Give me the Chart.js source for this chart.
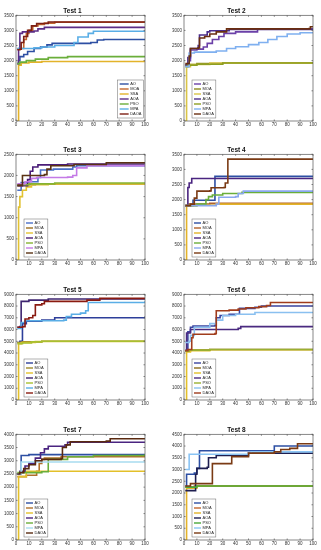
<!DOCTYPE html>
<html>
<head>
<meta charset="utf-8">
<script src="https://cdn.jsdelivr.net/npm/chart.js@4.4.0/dist/chart.umd.min.js"></script>
<style>
  html, body { margin: 0; padding: 0; background: #fff; overflow: hidden; }
  body { width: 321px; height: 550px; position: relative; }
  canvas { position: absolute; }
</style>
</head>
<body>
<script>
// convergence curves, [iteration, best fitness] at each change
const algorithms = ['AO', 'MOA', 'SSA', 'AOA', 'PSO', 'MPA', 'DAOA'];
const testNames = ['Test 1', 'Test 2', 'Test 3', 'Test 4', 'Test 5', 'Test 6', 'Test 7', 'Test 8'];
const yMax = [3500, 3500, 2500, 3500, 9000, 9000, 4000, 4500];
const yStep = [500, 500, 500, 500, 1000, 1000, 500, 500];

const test1 = [
    [[1,1900],[2,2000],[3,2130],[6,2200],[9,2300],[14,2400],[19,2450],[24,2520],[28,2570],[58,2600],[63,2680],[68,2700],[100,2700]],
    [[1,2380],[4,2400],[6,2700],[8,2900],[10,3000],[13,3150],[17,3200],[22,3240],[30,3270],[100,3270]],
    [[1,0],[2,1850],[4,1920],[10,1950],[20,1970],[100,1970]],
    [[1,1900],[2,2400],[3,2900],[5,2950],[14,2980],[17,3050],[22,3100],[100,3100]],
    [[1,1900],[3,1950],[8,2000],[15,2050],[25,2100],[40,2130],[100,2140]],
    [[1,2400],[14,2420],[20,2450],[30,2500],[45,2600],[48,2780],[56,2900],[60,2970],[100,2980]],
    [[1,2360],[3,2380],[4,2600],[6,2800],[9,3000],[12,3150],[16,3230],[25,3280],[100,3290]]
];
const test2 = [
    [[1,1850],[4,2000],[5,2350],[10,2380],[15,2450],[18,2570],[22,2700],[27,2800],[31,2900],[40,2950],[57,3050],[100,3060]],
    [[1,1850],[3,1870],[10,1900],[30,1930],[100,1950]],
    [[1,0],[2,1800],[5,1870],[20,1920],[100,1940]],
    [[1,1850],[3,2100],[5,2400],[11,2500],[12,2850],[18,2950],[20,2990],[35,3030],[100,3040]],
    [[1,1800],[3,1850],[10,1880],[30,1920],[100,1950]],
    [[1,1800],[4,2250],[8,2280],[25,2320],[33,2400],[40,2460],[50,2530],[58,2600],[65,2700],[72,2800],[80,2880],[90,2920],[100,2930]],
    [[1,1900],[4,2150],[5,2400],[11,2420],[12,2750],[16,2800],[20,2880],[25,2950],[33,3050],[97,3060],[98,3120],[100,3120]]
];
const test3 = [
    [[1,1650],[4,1830],[10,1850],[17,1950],[19,2130],[29,2150],[44,2200],[47,2230],[100,2240]],
    [[1,1750],[5,1780],[15,1800],[100,1810]],
    [[1,0],[2,1250],[3,1500],[5,1650],[8,1730],[12,1780],[25,1800],[100,1800]],
    [[1,1760],[9,1900],[11,2100],[13,2200],[17,2250],[40,2270],[100,2290]],
    [[1,1780],[10,1800],[30,1820],[100,1830]],
    [[1,1800],[7,1850],[12,1930],[16,1950],[40,1960],[44,2000],[47,2180],[55,2230],[100,2260]],
    [[1,1770],[5,2000],[22,2020],[24,2150],[27,2230],[45,2260],[70,2300],[100,2320]]
];
const test4 = [
    [[1,1800],[7,1980],[24,2770],[100,2770]],
    [[1,1800],[4,1850],[20,1880],[100,1900]],
    [[1,0],[2,1800],[10,1820],[25,1850],[100,1870]],
    [[1,1800],[3,2400],[4,2550],[6,2700],[100,2700]],
    [[1,1800],[10,1850],[17,2000],[19,2100],[22,2150],[30,2200],[45,2240],[100,2250]],
    [[1,1800],[25,1850],[27,2080],[40,2100],[42,2200],[46,2280],[100,2300]],
    [[1,1800],[5,1850],[8,2050],[10,2280],[20,2290],[21,2390],[31,2400],[32,2550],[34,3340],[100,3340]]
];
const test5 = [
    [[1,4900],[3,5000],[5,6500],[8,6700],[20,6800],[30,7000],[100,7100]],
    [[1,4900],[5,4950],[20,5000],[100,5020]],
    [[1,0],[2,4800],[4,4900],[15,4980],[100,5000]],
    [[1,6200],[3,6250],[4,8400],[10,8500],[25,8600],[100,8650]],
    [[1,4800],[5,4850],[12,4950],[20,5000],[100,5050]],
    [[1,6100],[4,6600],[7,6750],[37,6800],[39,7100],[43,7300],[50,7400],[54,7600],[56,8300],[100,8400]],
    [[1,6200],[5,6250],[7,6900],[10,7000],[13,7200],[15,8100],[20,8200],[22,8400],[55,8500],[65,8650],[100,8700]]
];
const test6 = [
    [[1,4200],[3,5800],[5,6200],[7,6300],[24,6350],[25,7000],[28,7200],[35,7300],[43,7800],[55,7900],[60,8000],[100,8000]],
    [[1,4200],[5,4250],[20,4300],[100,4320]],
    [[1,0],[2,4100],[5,4200],[20,4280],[100,4300]],
    [[1,4200],[2,5700],[5,6000],[42,6100],[44,6250],[100,6300]],
    [[1,4150],[4,4250],[20,4300],[100,4330]],
    [[1,4900],[4,5000],[5,5500],[8,6200],[20,6500],[25,6800],[30,7200],[40,7300],[55,7450],[100,7450]],
    [[1,4200],[3,4300],[6,5300],[7,5600],[24,5650],[25,7600],[35,7650],[42,7750],[48,7850],[58,7950],[64,8050],[67,8300],[100,8350]]
];
const test7 = [
    [[1,2500],[4,3200],[10,3230],[100,3250]],
    [[1,2400],[8,2450],[16,2600],[18,2900],[20,3050],[22,3100],[35,3150],[100,3200]],
    [[1,0],[2,2400],[8,2600],[100,2600]],
    [[1,2500],[3,2600],[7,2800],[10,2900],[15,3100],[19,3300],[22,3450],[25,3550],[38,3600],[40,3700],[100,3700]],
    [[1,2550],[20,2580],[25,3050],[40,3150],[60,3200],[100,3250]],
    [[1,2500],[4,2950],[100,2980]],
    [[1,2500],[3,2550],[6,2700],[10,2850],[15,3000],[20,3050],[35,3080],[36,3500],[39,3600],[42,3720],[70,3740],[73,3830],[100,3830]]
];
const test8 = [
    [[1,2300],[2,2800],[8,2850],[10,3050],[12,3800],[69,3800],[70,4000],[100,4050]],
    [[1,2250],[8,2300],[100,2330]],
    [[1,0],[2,2200],[10,2300],[100,2330]],
    [[1,2100],[8,2100],[9,2800],[10,3050],[18,3100],[19,3500],[25,3600],[50,3700],[100,3700]],
    [[1,2250],[10,2300],[100,2330]],
    [[1,3000],[4,3650],[50,3700],[52,3750],[100,3750]],
    [[1,2300],[5,2400],[22,3250],[37,3550],[50,3700],[70,3750],[75,3850],[82,3900],[88,4100],[100,4120]]
];
const tests = [test1, test2, test3, test4, test5, test6, test7, test8];

// line colours, in algorithm order
const basePalette = ['#2d4fa3', '#c2662d', '#e3b32a', '#5b2c86', '#6aae3a', '#5aaee6', '#7d1f14'];
const palettes = [
    basePalette,
    ['#6b40a8', '#8c8a1e', '#d9c447', '#4b2d8a', '#8e9f22', '#7fb0f0', '#6a2e10'],
    ['#4a6fc8', '#9c6e1e', '#e2c232', '#4a1c78', '#86b232', '#c47ae6', '#5a3214'],
    ['#2d4fa3', '#b0602a', '#e3b32a', '#4a2480', '#6aae3a', '#8aa8ee', '#7a3a14'],
    ['#2d3f9a', '#a08a2a', '#e3c02a', '#3e2470', '#a8c030', '#5aaee6', '#8a1a10'],
    ['#3a44a0', '#8a6a1a', '#e3c02a', '#4a2a80', '#9ab030', '#8ac0f0', '#a03c1c'],
    ['#2d4fa3', '#b0702a', '#e3c02a', '#4a2480', '#6aae3a', '#a8dcf0', '#5a2a10'],
    ['#2d4fa3', '#c2662d', '#e3b32a', '#1e1e50', '#4aa83a', '#8ac4f4', '#7a3a14']
];
const legendCorner = ['br', 'bl', 'bl', 'bl', 'bl', 'bl', 'bl', 'bl'];

const rowTop = [0, 139, 279, 419];
const cols = [
    { left: 0, width: 160, yw: 16, padR: 15 },
    { left: 160, width: 161, yw: 24, padR: 8 }
];

Chart.defaults.font.family = "'Liberation Sans', Arial, sans-serif";
Chart.defaults.color = '#333';

const tickFont = { size: 4.5 };

// matlab style box, inward ticks and legend inside the axes
const matlabBox = {
    id: 'matlabBox',
    afterDatasetsDraw(chart, args, opts) {
        const ctx = chart.ctx;
        const a = chart.chartArea;
        const xs = chart.scales.x, ys = chart.scales.y;
        ctx.save();
        ctx.strokeStyle = '#555';
        ctx.lineWidth = 0.7;
        ctx.strokeRect(a.left, a.top, a.right - a.left, a.bottom - a.top);
        ctx.beginPath();
        xs.ticks.forEach(t => {
            const px = xs.getPixelForValue(t.value);
            ctx.moveTo(px, a.bottom); ctx.lineTo(px, a.bottom - 1.5);
            ctx.moveTo(px, a.top); ctx.lineTo(px, a.top + 1.5);
        });
        ys.ticks.forEach(t => {
            const py = ys.getPixelForValue(t.value);
            ctx.moveTo(a.left, py); ctx.lineTo(a.left + 1.5, py);
            ctx.moveTo(a.right, py); ctx.lineTo(a.right - 1.5, py);
        });
        ctx.stroke();

        // legend
        const sets = chart.data.datasets;
        const lineLen = opts.lineLen;
        ctx.font = "4px 'Liberation Sans', Arial, sans-serif";
        let tw = 0;
        sets.forEach(d => { tw = Math.max(tw, ctx.measureText(d.label).width); });
        const w = 2 + lineLen + 1.5 + tw + 2;
        const rowH = 5;
        const h = rowH * sets.length + 3;
        const bx = opts.corner === 'br' ? a.right - 1.5 - w : a.left + 8;
        const by = a.bottom - 3 - h;
        ctx.fillStyle = '#fff';
        ctx.fillRect(bx, by, w, h);
        ctx.strokeStyle = '#666';
        ctx.lineWidth = 0.5;
        ctx.strokeRect(bx, by, w, h);
        ctx.textBaseline = 'middle';
        ctx.textAlign = 'left';
        sets.forEach((d, k) => {
            const cy = by + 1.5 + rowH * (k + 0.5);
            ctx.strokeStyle = d.borderColor;
            ctx.lineWidth = 1.4;
            ctx.beginPath();
            ctx.moveTo(bx + 2, cy); ctx.lineTo(bx + 2 + lineLen, cy);
            ctx.stroke();
            ctx.fillStyle = '#222';
            ctx.fillText(d.label, bx + 3.5 + lineLen, cy);
        });
        ctx.restore();
    }
};

tests.forEach((series, i) => {
    const col = cols[i % 2];
    const canvas = document.createElement('canvas');
    canvas.width = col.width;
    canvas.height = 133;
    canvas.style.left = col.left + 'px';
    canvas.style.top = rowTop[Math.floor(i / 2)] + 'px';
    canvas.style.width = col.width + 'px';
    canvas.style.height = '133px';
    document.body.appendChild(canvas);

    new Chart(canvas, {
        type: 'line',
        data: {
            datasets: series.map((pts, k) => ({
                label: algorithms[k],
                data: pts,
                borderColor: palettes[i][k],
                borderWidth: 1.6,
                pointRadius: 0,
                stepped: true,
                fill: false,
                order: algorithms.length - 1 - k
            }))
        },
        options: {
            responsive: false,
            animation: false,
            devicePixelRatio: 1,
            layout: { padding: { left: 0, right: col.padR, top: 0, bottom: 0 } },
            plugins: {
                legend: { display: false },
                tooltip: { enabled: false },
                title: {
                    display: true,
                    text: testNames[i],
                    color: '#111',
                    font: { size: 6.5, weight: 'bold' },
                    padding: { top: 7.5, bottom: 0 }
                },
                matlabBox: { corner: legendCorner[i], lineLen: i === 0 ? 9 : 7 }
            },
            scales: {
                x: {
                    type: 'linear',
                    min: 0,
                    max: 100,
                    ticks: { stepSize: 10, font: tickFont, padding: 1.5, maxRotation: 0, autoSkip: false },
                    grid: { display: false, drawTicks: false },
                    border: { display: false },
                    afterFit(s) { s.height = 12; }
                },
                y: {
                    min: 0,
                    max: yMax[i],
                    ticks: { stepSize: yStep[i], font: tickFont, padding: 2, autoSkip: false, callback: v => String(v) },
                    grid: { display: false, drawTicks: false },
                    border: { display: false },
                    afterFit(s) { s.width = col.yw; }
                }
            }
        },
        plugins: [matlabBox]
    });
});
</script>
</body>
</html>
